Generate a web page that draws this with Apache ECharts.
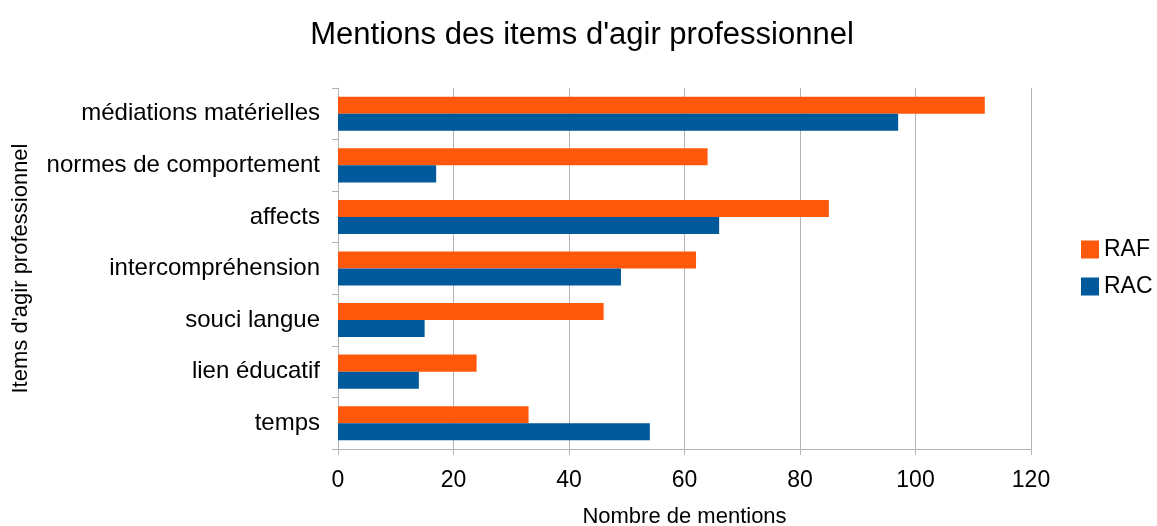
<!DOCTYPE html>
<html>
<head>
<meta charset="utf-8">
<script src="https://cdn.jsdelivr.net/npm/echarts@6/dist/echarts.min.js"></script>
<style>
  html, body { margin: 0; padding: 0; background: #fff; }
  #chart { width: 1157px; height: 526px; }
</style>
</head>
<body>
<div id="chart"></div>
<script>
  // bottom to top, as the category axis draws them
  var categories = ['temps', 'lien éducatif', 'souci langue', 'intercompréhension', 'affects', 'normes de comportement', 'médiations matérielles']
  var rafValues = [33, 24, 46, 62, 85, 64, 112]
  var racValues = [54, 14, 15, 49, 66, 17, 97]
  var xTicks = [0, 20, 40, 60, 80, 100, 120]

  var font = 'Liberation Sans, Arial, sans-serif'
  var chart = echarts.init(document.getElementById('chart'))

  chart.setOption({
    animation: false,
    title: {
      text: "Mentions des items d'agir professionnel",
      left: 577,
      top: 15,
      textAlign: 'center',
      textStyle: { fontFamily: font, fontSize: 31, fontWeight: 'normal', color: '#000' }
    },
    legend: {
      orient: 'vertical',
      left: 1081,
      top: 238,
      padding: 0,
      itemWidth: 18,
      itemHeight: 18,
      itemGap: 14,
      icon: 'rect',
      data: ['RAF', 'RAC'],
      textStyle: { fontFamily: font, fontSize: 23, color: '#000' }
    },
    grid: {
      left: 338,
      right: 126,
      top: 88,
      bottom: 77,
      outerBoundsMode: 'none'
    },
    xAxis: {
      type: 'value',
      min: xTicks[0],
      max: xTicks[xTicks.length - 1],
      interval: 20,
      name: 'Nombre de mentions',
      nameLocation: 'middle',
      nameGap: 57,
      nameTextStyle: { fontFamily: font, fontSize: 22, color: '#000' },
      axisLine: { show: true, lineStyle: { color: '#b3b3b3', width: 1 } },
      axisTick: { show: true, length: 6, lineStyle: { color: '#b3b3b3' } },
      axisLabel: { fontFamily: font, fontSize: 23, color: '#000', margin: 20 },
      splitLine: { show: true, lineStyle: { color: '#b3b3b3', width: 1 } }
    },
    yAxis: {
      type: 'category',
      data: categories,
      name: "Items d'agir professionnel",
      nameLocation: 'middle',
      nameGap: 306,
      nameTextStyle: { fontFamily: font, fontSize: 22, color: '#000' },
      axisLine: { show: true, lineStyle: { color: '#b3b3b3', width: 1 } },
      axisTick: { show: true, length: 6, lineStyle: { color: '#b3b3b3' } },
      axisLabel: { fontFamily: font, fontSize: 24, color: '#000', margin: 18 },
      splitLine: { show: false }
    },
    series: [
      {
        name: 'RAF',
        type: 'bar',
        data: rafValues,
        barGap: '0%',
        barCategoryGap: '34%',
        itemStyle: { color: '#ff580b' }
      },
      {
        name: 'RAC',
        type: 'bar',
        data: racValues,
        barGap: '0%',
        barCategoryGap: '34%',
        itemStyle: { color: '#00599a' }
      }
    ]
  })
</script>
</body>
</html>
